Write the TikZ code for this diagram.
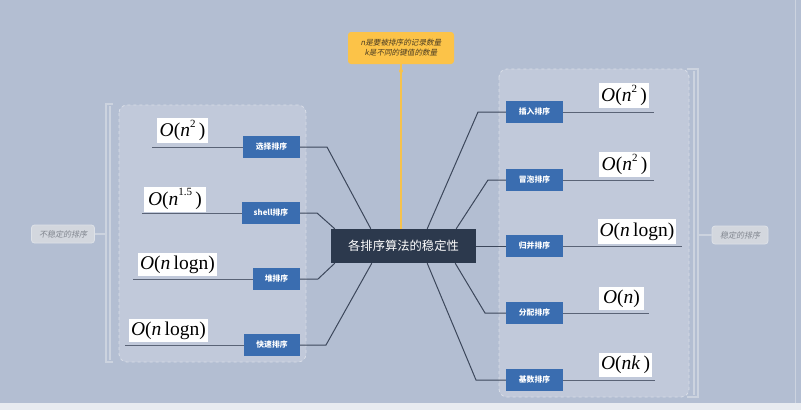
\documentclass[tikz,border=0pt]{standalone}
\usepackage{fontspec}
\setmainfont{Liberation Serif}
\newfontfamily\cjk{Noto Sans CJK SC}
\newfontfamily\cjkit{Noto Sans CJK SC}[FakeSlant=0.2]
\usetikzlibrary{calc}
\definecolor{bg}{HTML}{B3BED2}
\definecolor{panelfill}{HTML}{C1C9DA}
\definecolor{panelline}{HTML}{D9DEE8}
\definecolor{nodeblue}{HTML}{3A6DB0}
\definecolor{centerc}{HTML}{2C394D}
\definecolor{connc}{HTML}{3C475B}
\definecolor{ulc}{HTML}{5A6376}
\definecolor{noteyel}{HTML}{FCC348}
\definecolor{notetext}{HTML}{4A3C22}
\definecolor{yline}{HTML}{F6C24C}
\definecolor{labfill}{HTML}{D3D7DE}
\definecolor{labdraw}{HTML}{DEE2E8}
\definecolor{labtext}{HTML}{80858E}
\definecolor{brk}{HTML}{CCD3DF}
\definecolor{strip}{HTML}{E8EBF0}
\newcommand\Oit{\textit{O}}
\newcommand\supr[1]{\raisebox{0.5em}{\fontsize{11}{11}\selectfont #1}}
\begin{document}
\begin{tikzpicture}[x=1pt,y=-1pt,
  panel/.style={draw=panelline, dashed, fill=panelfill, rounded corners=8pt, line width=0.8pt},
  bluebox/.style={fill=nodeblue, text=white, font=\cjk\bfseries\fontsize{7.8}{9}\selectfont, minimum height=22pt, inner sep=0pt},
  formula/.style={fill=white, font=\fontsize{19.5}{19.5}\selectfont, minimum height=25pt, inner sep=1pt},
  conn/.style={draw=connc, line width=1pt},
  uline/.style={draw=ulc, line width=1pt},
  brkline/.style={draw=brk, line width=1.2pt},
  sidelabel/.style={fill=labfill, draw=labdraw, line width=0.8pt, rounded corners=3pt, text=labtext, font=\cjkit\fontsize{8}{9}\selectfont, minimum height=18pt, inner sep=0pt}
]
\fill[bg] (0,0) rectangle (801,410);
\useasboundingbox (0,0) rectangle (801,410);
\fill[strip] (0,403) rectangle (801,410);
\draw[brk, line width=0.8pt] (795,0) -- (795,403);

% panels
\path[panel] (119,105) rectangle (306,362);
\path[panel] (499,69) rectangle (689,397);

% brackets
\draw[brkline] (113,104) -- (106,104) -- (106,362) -- (113,362);
\draw[brkline] (110,106) -- (110,360);
\draw[brkline] (687,69) -- (698,69) -- (698,397) -- (687,397);
\draw[brkline] (694,71) -- (694,395);

% side labels
\node[sidelabel, minimum width=63pt] (lab1) at (63,234) {不稳定的排序};
\node[sidelabel, minimum width=56pt] (lab2) at (740,235) {稳定的排序};
\coordinate (b1) at (106,234);
\coordinate (b2) at (698,235);
\draw[brkline] (lab1.east) -- (b1);
\draw[brkline] (lab2.west) -- (b2);

% center node
\node[fill=centerc, text=white, font=\cjk\fontsize{12.3}{14}\selectfont, minimum width=145pt, minimum height=34pt, inner sep=0pt] (c) at (403.5,246) {各排序算法的稳定性};

% note
\node[fill=noteyel, rounded corners=3pt, minimum width=106pt, minimum height=32pt, inner sep=0pt, align=center, text=notetext, font=\cjkit\fontsize{7.6}{10}\selectfont] (note) at (401,48) {n是要被排序的记录数量\\k是不同的键值的数量};
\coordinate (ytop) at (401,229);
\draw[yline, line width=1.5pt] (note.south) -- (ytop);
\node[circle, fill=yline, inner sep=0pt, minimum size=4pt] (ydot) at (401,71) {};

% left blue nodes
\node[bluebox, minimum width=57pt] (sel) at (271.5,147) {选择排序};
\node[bluebox, minimum width=58pt] (shl) at (271,213) {shell排序};
\node[bluebox, minimum width=47pt] (heap) at (276.5,279) {堆排序};
\node[bluebox, minimum width=56pt] (quick) at (272,345) {快速排序};

% right blue nodes
\node[bluebox, minimum width=57pt] (ins) at (534.5,112) {插入排序};
\node[bluebox, minimum width=57pt] (bub) at (534.5,180) {冒泡排序};
\node[bluebox, minimum width=57pt] (mrg) at (534.5,246) {归并排序};
\node[bluebox, minimum width=57pt] (dst) at (534.5,313) {分配排序};
\node[bluebox, minimum width=57pt] (rdx) at (534.5,380) {基数排序};

% underlines
\coordinate (selu) at (152,147);
\coordinate (shlu) at (142,213);
\coordinate (heapu) at (133,279);
\coordinate (quicku) at (125,345);
\coordinate (insu) at (654,112);
\coordinate (bubu) at (654,180);
\coordinate (mrgu) at (682,246);
\coordinate (dstu) at (649,313);
\coordinate (rdxu) at (655,380);
\draw[uline] (selu) -- (sel.west);
\draw[uline] (shlu) -- (shl.west);
\draw[uline] (heapu) -- (heap.west);
\draw[uline] (quicku) -- (quick.west);
\draw[uline] (ins.east) -- (insu);
\draw[uline] (bub.east) -- (bubu);
\draw[uline] (mrg.east) -- (mrgu);
\draw[uline] (dst.east) -- (dstu);
\draw[uline] (rdx.east) -- (rdxu);

% formulas
\node[formula, minimum width=51pt] (f1) at (182.5,130.5) {\Oit(\textit{n}\supr{2}\,)};
\node[formula, minimum width=62pt] (f2) at (175,199) {\Oit(\textit{n}\supr{1.5}\,)};
\node[formula, minimum width=79pt, minimum height=23pt] (f3) at (177.5,264.5) {\Oit(\textit{n}\,logn)};
\node[formula, minimum width=79pt, minimum height=23pt] (f4) at (168.5,330.5) {\Oit(\textit{n}\,logn)};
\node[formula, minimum width=50pt] (g1) at (624,95.5) {\Oit(\textit{n}\supr{2}\,)};
\node[formula, minimum width=51pt] (g2) at (624.5,164.5) {\Oit(\textit{n}\supr{2}\,)};
\node[formula, minimum width=78pt] (g3) at (637,231.5) {\Oit(\textit{n}\,logn)};
\node[formula, minimum width=45pt, minimum height=23pt] (g4) at (621.5,298.5) {\Oit(\textit{n})};
\node[formula, minimum width=53pt, minimum height=24pt] (g5) at (625.5,365) {\Oit(\textit{nk}\,)};

% connectors
\coordinate (selk) at (327,147);
\coordinate (shlk) at (317,213);
\coordinate (heapk) at (318,279);
\coordinate (quickk) at (326,345);
\coordinate (insk) at (478,112);
\coordinate (bubk) at (488,180);
\coordinate (dstk) at (485,313);
\coordinate (rdxk) at (476,380);
\draw[conn] (sel.east) -- (selk) -- ([xshift=40pt]c.north west);
\draw[conn] (shl.east) -- (shlk) -- ([xshift=4pt]c.north west);
\draw[conn] (heap.east) -- (heapk) -- ([xshift=4pt]c.south west);
\draw[conn] (quick.east) -- (quickk) -- ([xshift=41pt]c.south west);
\draw[conn] ([xshift=-49pt]c.north east) -- (insk) -- (ins.west);
\draw[conn] ([xshift=-20pt]c.north east) -- (bubk) -- (bub.west);
\draw[conn] (c.east) -- (mrg.west);
\draw[conn] ([xshift=-21pt]c.south east) -- (dstk) -- (dst.west);
\draw[conn] ([xshift=-49pt]c.south east) -- (rdxk) -- (rdx.west);
\end{tikzpicture}
\end{document}
